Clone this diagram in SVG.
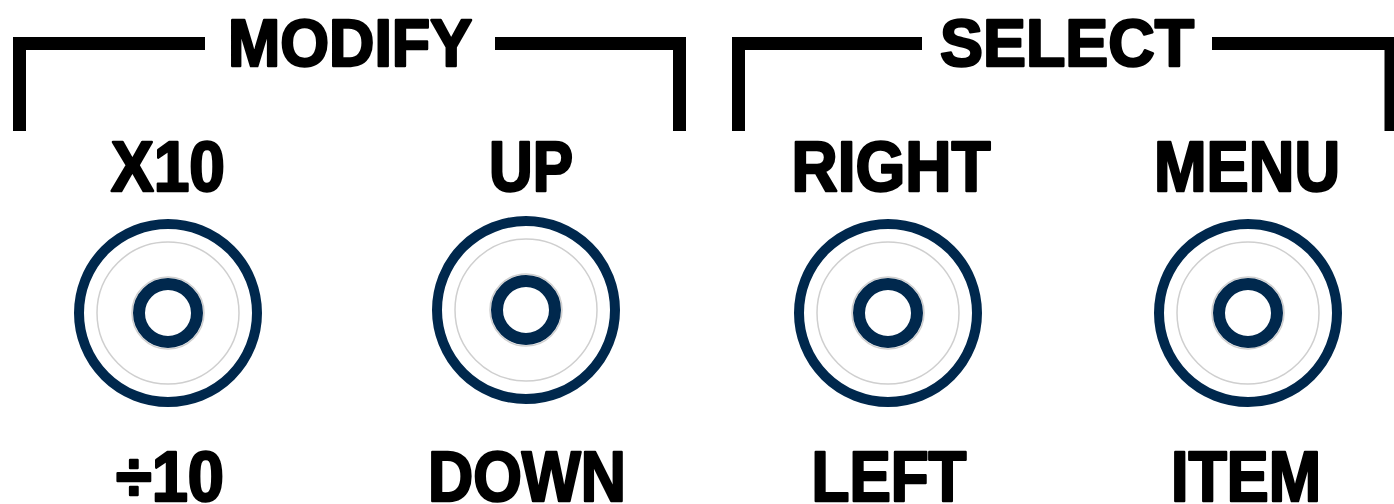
<svg xmlns="http://www.w3.org/2000/svg" width="1394" height="504" viewBox="0 0 1394 504">
<style>
.br{fill:none;stroke:#000;stroke-width:13;stroke-linecap:butt;stroke-linejoin:miter}
.t{font-family:"Liberation Sans",Arial,sans-serif;font-weight:bold;fill:#000;stroke:#000;stroke-width:2.5;stroke-linejoin:round;text-anchor:middle}
.h{font-size:66px}
.l{font-size:70px}
.o{fill:none;stroke:#00284d;stroke-width:10}
.g{fill:none;stroke:#cfcfcf;stroke-width:1.5}
.i{fill:none;stroke:#00284d;stroke-width:12}
</style>
<rect width="1394" height="504" fill="#fff"/>
<g id="modify">
<path class="br" d="M19.5 131 V43.5 H205"/>
<path class="br" d="M495 43.5 H679.5 V131"/>
<text class="t h" x="350" y="66" textLength="244" lengthAdjust="spacingAndGlyphs">MODIFY</text>
</g>
<g id="select">
<path class="br" d="M738.5 131 V43.5 H922"/>
<path class="br" d="M1212 43.5 H1391 V131"/>
<text class="t h" x="1067" y="66" textLength="254" lengthAdjust="spacingAndGlyphs">SELECT</text>
</g>
<g id="btn-x10">
<text class="t l" x="168" y="191" textLength="114" lengthAdjust="spacingAndGlyphs">X10</text>
<circle class="o" cx="168" cy="313" r="89"/>
<circle class="g" cx="168" cy="313" r="71"/>
<circle class="g" cx="168" cy="313" r="36"/>
<circle class="i" cx="168" cy="313" r="29"/>
<text class="t l" x="170" y="501" textLength="108" lengthAdjust="spacingAndGlyphs">÷10</text>
</g>
<g id="btn-up">
<text class="t l" x="531" y="191" textLength="84" lengthAdjust="spacingAndGlyphs">UP</text>
<circle class="o" cx="526" cy="310" r="89"/>
<circle class="g" cx="526" cy="310" r="71"/>
<circle class="g" cx="526" cy="310" r="36"/>
<circle class="i" cx="526" cy="310" r="29"/>
<text class="t l" x="527" y="501" textLength="198" lengthAdjust="spacingAndGlyphs">DOWN</text>
</g>
<g id="btn-right">
<text class="t l" x="891" y="191" textLength="199" lengthAdjust="spacingAndGlyphs">RIGHT</text>
<circle class="o" cx="888" cy="313" r="89"/>
<circle class="g" cx="888" cy="313" r="71"/>
<circle class="g" cx="888" cy="313" r="36"/>
<circle class="i" cx="888" cy="313" r="29"/>
<text class="t l" x="889" y="501" textLength="155" lengthAdjust="spacingAndGlyphs">LEFT</text>
</g>
<g id="btn-menu">
<text class="t l" x="1247" y="191" textLength="186" lengthAdjust="spacingAndGlyphs">MENU</text>
<circle class="o" cx="1248" cy="313" r="89"/>
<circle class="g" cx="1248" cy="313" r="71"/>
<circle class="g" cx="1248" cy="313" r="36"/>
<circle class="i" cx="1248" cy="313" r="29"/>
<text class="t l" x="1246" y="501" textLength="150" lengthAdjust="spacingAndGlyphs">ITEM</text>
</g>
<g id="connectors"></g>
</svg>
